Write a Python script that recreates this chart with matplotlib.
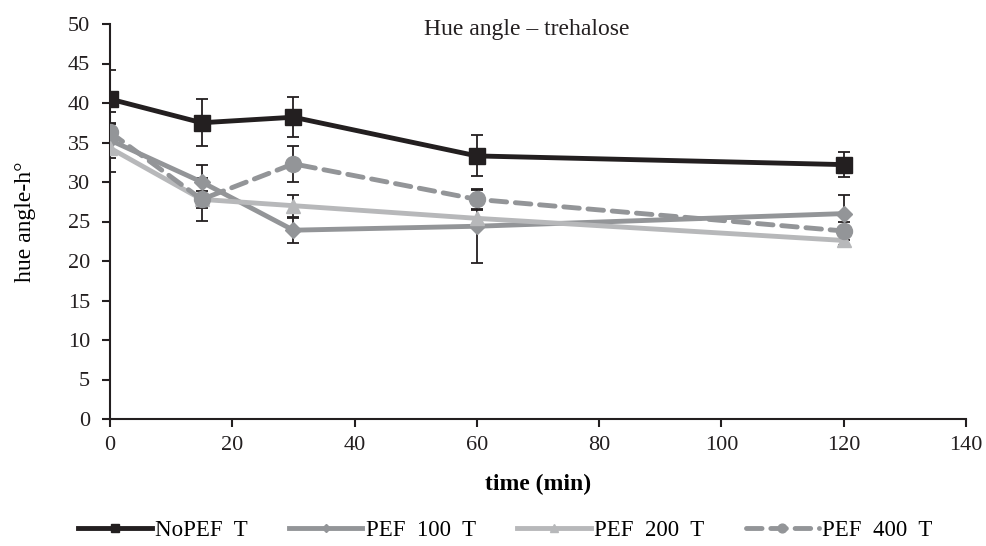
import numpy as np
import matplotlib.pyplot as plt

plt.rcParams['font.family'] = ['Liberation Serif', 'DejaVu Serif']

time_min = [0, 15, 30, 60, 120]

nopef = [40.5, 37.5, 38.2, 33.3, 32.2]
nopef_err = [3.7, 3.0, 2.5, 2.6, 1.6]

pef100 = [35.3, 30.0, 23.9, 24.4, 26.0]
pef100_err = [2.2, 2.2, 1.6, 4.7, 2.3]

pef200 = [34.3, 27.8, 27.0, 25.4, 22.6]
pef200_err = [3.0, 1.1, 1.4, 1.0, 0.6]

pef400 = [36.3, 27.8, 32.3, 27.8, 23.8]
pef400_err = [2.6, 2.7, 2.3, 1.2, 1.2]

series = [
    ("NoPEF  T", nopef, nopef_err, "#231f20", "s", 11, "-"),
    ("PEF  100  T", pef100, pef100_err, "#939598", "D", 8, "-"),
    ("PEF  200  T", pef200, pef200_err, "#b7b8ba", "^", 10, "-"),
    ("PEF  400  T", pef400, pef400_err, "#939598", "o", 11.5, "--"),
]

fig = plt.figure(figsize=(9.87, 5.46), dpi=100)
ax = fig.add_axes([110 / 987, 1 - 419 / 546, (966 - 110) / 987, (419 - 24) / 546])

handles = []
for label, vals, err, color, marker, ms, ls in series:
    ax.errorbar(time_min, vals, yerr=err, fmt='none', ecolor="#231f20",
                elinewidth=1.3, capsize=4.5, capthick=1.3, zorder=2)
    line, = ax.plot(time_min, vals, color=color, marker=marker, markersize=ms,
                    linewidth=3.5, linestyle=ls, label=label, zorder=3)
    if ls == "--":
        line.set_dashes((3.2, 1.8))
        line.set_dash_capstyle('round')
    handles.append(line)

ax.set_xlim(0, 140)
ax.set_ylim(0, 50)
ax.set_xticks(np.arange(0, 141, 20))
ax.set_yticks(np.arange(0, 51, 5))
ax.spines['top'].set_visible(False)
ax.spines['right'].set_visible(False)
ax.spines['left'].set_linewidth(1.5)
ax.spines['bottom'].set_linewidth(1.5)
ax.spines['left'].set_color("#231f20")
ax.spines['bottom'].set_color("#231f20")
ax.tick_params(direction='out', length=6, width=1.5, labelsize=16, colors="#231f20")
ax.tick_params(axis='y', pad=8.5)
ax.tick_params(axis='x', pad=6)

ax.set_title("Hue angle \u2013 trehalose", fontsize=17, x=0.487, y=0.95, color="#231f20")
ax.set_xlabel("time (min)", fontsize=17, fontweight='bold', labelpad=14)
ax.set_ylabel("hue angle-h\u00b0", fontsize=17, labelpad=23)

fig.legend(handles, [s[0] for s in series], loc='center',
           bbox_to_anchor=(0.5 + 12 / 987, 1 - 530 / 546), ncol=4, frameon=False,
           fontsize=16.5, handlelength=3.2, columnspacing=1.8,
           handletextpad=0.15, markerscale=0.55)

fig.savefig("out.png", dpi=100)
